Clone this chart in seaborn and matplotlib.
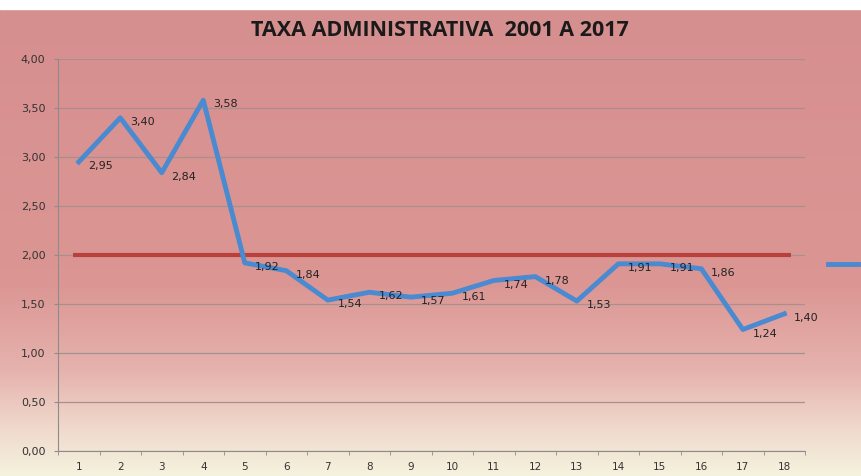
import matplotlib.pyplot as plt
import seaborn as sns
import numpy as np
import pandas as pd
from matplotlib.colors import LinearSegmentedColormap
from matplotlib.lines import Line2D
from matplotlib.ticker import FuncFormatter, FixedLocator

# data
periods = list(range(1, 19))
taxa = [2.95, 3.40, 2.84, 3.58, 1.92, 1.84, 1.54, 1.62, 1.57, 1.61,
        1.74, 1.78, 1.53, 1.91, 1.91, 1.86, 1.24, 1.40]
limite = 2.0
title = 'TAXA ADMINISTRATIVA  2001 A 2017'

df = pd.DataFrame({'periodo': periods, 'taxa': taxa})

fig = plt.figure(figsize=(8.62, 4.76), dpi=100)

# background gradient (pink on top, fading to cream)
bg = fig.add_axes([0, 0, 1, 1], zorder=-10)
cmap = LinearSegmentedColormap.from_list('bg', [
    (0.00, (0.84, 0.56, 0.56)),
    (0.60, (0.86, 0.59, 0.58)),
    (0.78, (0.90, 0.70, 0.68)),
    (0.90, (0.94, 0.85, 0.80)),
    (1.00, (0.96, 0.95, 0.87)),
])
grad = np.linspace(0, 1, 256).reshape(-1, 1)
bg.imshow(grad, aspect='auto', cmap=cmap, extent=[0, 1, 0, 1])
bg.axhspan(0.981, 1.0, color='white')
bg.set_xlim(0, 1)
bg.set_ylim(0, 1)
bg.axis('off')

ax = fig.add_axes([0.0673, 0.0525, 0.8667, 0.8235])
ax.patch.set_alpha(0)

ax.hlines(limite, 0.85, 18.15, color='#b9403c', lw=3, zorder=2)
sns.lineplot(data=df, x='periodo', y='taxa', ax=ax, color='#4a8ad0',
             lw=3.5, zorder=3)

for x, y in zip(periods, taxa):
    ax.annotate(f'{y:.2f}'.replace('.', ','), (x, y), xytext=(7, -3),
                textcoords='offset points', ha='left', va='center',
                fontsize=8, color='#222222', zorder=4)

ax.set_xlim(0.5, 18.5)
ax.set_ylim(0, 4)
ax.set_yticks(np.arange(0, 4.01, 0.5))
ax.yaxis.set_major_formatter(FuncFormatter(lambda v, p: f'{v:.2f}'.replace('.', ',')))
ax.set_xticks(periods)
ax.xaxis.set_minor_locator(FixedLocator(np.arange(0.5, 18.6, 1)))
ax.tick_params(axis='x', which='major', length=0, labelsize=7.5, colors='#333333', pad=8)
ax.tick_params(axis='x', which='minor', length=3, color='#8c8c8c')
ax.tick_params(axis='y', length=3, color='#8c8c8c', labelsize=8, labelcolor='#333333', pad=6)
ax.grid(axis='y', color='#a8908e', lw=0.9)
ax.set_axisbelow(True)
for s in ['top', 'right']:
    ax.spines[s].set_visible(False)
for s in ['left', 'bottom']:
    ax.spines[s].set_color('#8c8c8c')
ax.set_xlabel('')
ax.set_ylabel('')

ax.legend(handles=[Line2D([], [], color='#4a8ad0', lw=3.5)], labels=[''],
          loc='center left', bbox_to_anchor=(1.03, 0.475), frameon=False,
          borderpad=0, borderaxespad=0, handletextpad=0, handlelength=2.2)

fig.text(0.51, 0.935, title, ha='center', va='center', fontsize=15.5,
         fontweight='bold', color='#1a1a1a', family='Open Sans')

fig.savefig('out.png', dpi=100)
